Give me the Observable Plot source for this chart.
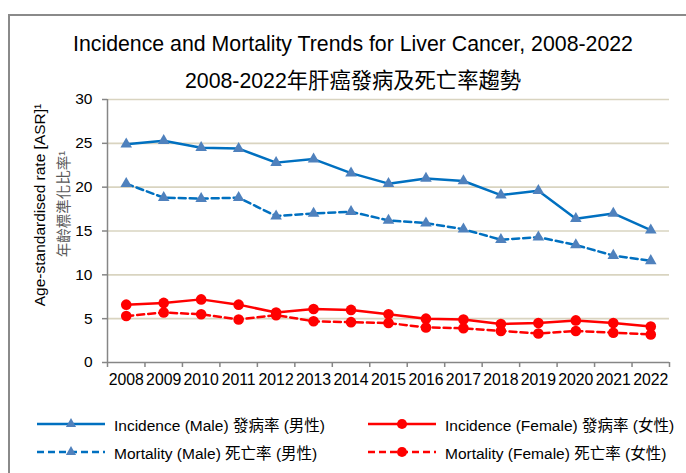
<!DOCTYPE html>
<html>
<head>
<meta charset="utf-8">
<script src="https://cdn.jsdelivr.net/npm/d3@7"></script>
<script src="https://cdn.jsdelivr.net/npm/@observablehq/plot@0.6"></script>
<style>
  html, body { margin: 0; padding: 0; background: #fff; }
  #wrap { position: relative; width: 686px; height: 473px; overflow: hidden; background: #fff;
          font-family: "Liberation Sans", Arial, "Noto Sans CJK TC", sans-serif; color: #000; }
  #frame { position: absolute; left: 8px; top: 14px; width: 720px; height: 520px; border: 2px solid #8a8a8a; box-sizing: border-box; }
  .title { position: absolute; left: 8px; width: 690px; text-align: center; font-size: 21.3px; white-space: nowrap; }
  .ytitle { position: absolute; transform: translate(-50%, -50%) rotate(-90deg); white-space: nowrap; }
  #chart { position: absolute; left: 0; top: 90px; }
  .leg { position: absolute; display: flex; align-items: center; font-size: 15.5px; white-space: nowrap; }
  .leg svg { display: block; margin-right: 7px; }
</style>
</head>
<body>
<div id="wrap">
  <div id="frame"></div>
  <div class="title" id="t1" style="top:32px"></div>
  <div class="title" id="t2" style="top:63px"></div>
  <div class="ytitle" id="y1" style="left:40px; top:205px; font-size:15.5px"></div>
  <div class="ytitle" id="y2" style="left:62px; top:204px; font-size:14.5px; color:#595959"></div>
  <div id="chart"></div>
  <div id="legend"></div>
</div>
<script>
// ---- data ----
const titleLine1 = "Incidence and Mortality Trends for Liver Cancer, 2008-2022";
const titleLine2 = "2008-2022年肝癌發病及死亡率趨勢";
const yTitle1 = "Age-standardised rate [ASR]¹";
const yTitle2 = "年齡標準化比率¹";

const years = [2008, 2009, 2010, 2011, 2012, 2013, 2014, 2015, 2016, 2017, 2018, 2019, 2020, 2021, 2022];
const incidenceMale   = [24.9, 25.3, 24.5, 24.4, 22.8, 23.2, 21.6, 20.4, 21.0, 20.7, 19.1, 19.6, 16.4, 17.0, 15.1];
const mortalityMale   = [20.4, 18.8, 18.7, 18.8, 16.7, 17.0, 17.2, 16.2, 15.9, 15.2, 14.0, 14.3, 13.4, 12.2, 11.6];
const incidenceFemale = [6.6, 6.8, 7.2, 6.6, 5.7, 6.1, 6.0, 5.5, 5.0, 4.9, 4.4, 4.5, 4.8, 4.5, 4.1];
const mortalityFemale = [5.3, 5.7, 5.5, 4.9, 5.4, 4.7, 4.6, 4.5, 4.0, 3.9, 3.6, 3.3, 3.6, 3.4, 3.2];
const yTicks = [0, 5, 10, 15, 20, 25, 30];

const seriesNames = [
  "Incidence (Male) 發病率 (男性)",
  "Mortality (Male) 死亡率 (男性)",
  "Incidence (Female) 發病率 (女性)",
  "Mortality (Female) 死亡率 (女性)"
];

// ---- styles ----
const series = [
  {name: seriesNames[0], values: incidenceMale,   line: "#0070C0", marker: "#4F81BD", symbol: "triangle", dash: null},
  {name: seriesNames[1], values: mortalityMale,   line: "#0070C0", marker: "#4F81BD", symbol: "triangle", dash: "7,4"},
  {name: seriesNames[2], values: incidenceFemale, line: "#FF0000", marker: "#FF0000", symbol: "circle",   dash: null},
  {name: seriesNames[3], values: mortalityFemale, line: "#FF0000", marker: "#FF0000", symbol: "circle",   dash: "7,4"}
];

document.getElementById("t1").textContent = titleLine1;
document.getElementById("t2").textContent = titleLine2;
document.getElementById("y1").textContent = yTitle1;
document.getElementById("y2").textContent = yTitle2;

const xDomain = [years[0] - 0.5, years[years.length - 1] + 0.5];
const boundaries = years.map(y => y - 0.5).concat([years[years.length - 1] + 0.5]);
const axisGray = "#868686";

const marks = [
  Plot.ruleY(yTicks.filter(v => v > 0), {stroke: "#d9d4c0", strokeWidth: 1.6}),
  Plot.ruleX([xDomain[0]], {stroke: axisGray, strokeWidth: 1.5}),
  Plot.ruleY([yTicks[0]], {stroke: axisGray, strokeWidth: 1.5}),
  Plot.axisY({ticks: yTicks, tickSize: 5, tickPadding: 10, stroke: axisGray, fill: "#000", strokeWidth: 1.5, tickFormat: d => String(d), fontSize: 15.5, label: null}),
  Plot.axisX({ticks: boundaries, tickSize: 5, tickFormat: () => "", stroke: axisGray, strokeWidth: 1.5, label: null}),
  Plot.axisX({ticks: years, tickSize: 0, tickPadding: 11, tickFormat: d => String(d), fill: "#000", fontSize: 15.8, label: null})
];

for (const s of series) {
  const rows = years.map((y, i) => ({year: y, value: s.values[i]}));
  marks.push(Plot.line(rows, {x: "year", y: "value", stroke: s.line, strokeWidth: 2.5, strokeDasharray: s.dash, curve: "linear"}));
}
for (const s of series) {
  const rows = years.map((y, i) => ({year: y, value: s.values[i]}));
  marks.push(Plot.dot(rows, {x: "year", y: "value", symbol: s.symbol, fill: s.marker, stroke: "none", r: s.symbol === "triangle" ? 4.3 : 5.3}));
}

const chart = Plot.plot({
  width: 686,
  height: 302,
  marginTop: 9,
  marginBottom: 30,
  marginLeft: 107,
  marginRight: 17,
  x: {type: "linear", domain: xDomain, label: null},
  y: {type: "linear", domain: [yTicks[0], yTicks[yTicks.length - 1]], label: null},
  style: {fontFamily: "'Liberation Sans', Arial, 'Noto Sans CJK TC', sans-serif", fontSize: "15.5px", color: "#000", background: "transparent", overflow: "visible"},
  marks
});
document.getElementById("chart").appendChild(chart);

// ---- legend ----
const legendPos = [
  {left: 37, top: 424}, {left: 37, top: 452}, {left: 368, top: 424}, {left: 368, top: 452}
];
const legend = document.getElementById("legend");
series.forEach((s, i) => {
  const div = document.createElement("div");
  div.className = "leg";
  div.style.left = legendPos[i].left + "px";
  div.style.top = (legendPos[i].top - 10) + "px";
  div.style.height = "20px";
  const svg = d3.create("svg").attr("width", 70).attr("height", 20);
  svg.append("line").attr("x1", 0).attr("x2", 68).attr("y1", 10).attr("y2", 10)
    .attr("stroke", s.line).attr("stroke-width", 2.5).attr("stroke-dasharray", s.dash);
  const sym = s.symbol === "triangle" ? d3.symbolTriangle : d3.symbolCircle;
  const size = s.symbol === "triangle" ? 45 : 80;
  svg.append("path").attr("d", d3.symbol(sym, size)()).attr("transform", "translate(34,10)").attr("fill", s.marker);
  div.appendChild(svg.node());
  const span = document.createElement("span");
  span.textContent = s.name;
  div.appendChild(span);
  legend.appendChild(div);
});
</script>
</body>
</html>
